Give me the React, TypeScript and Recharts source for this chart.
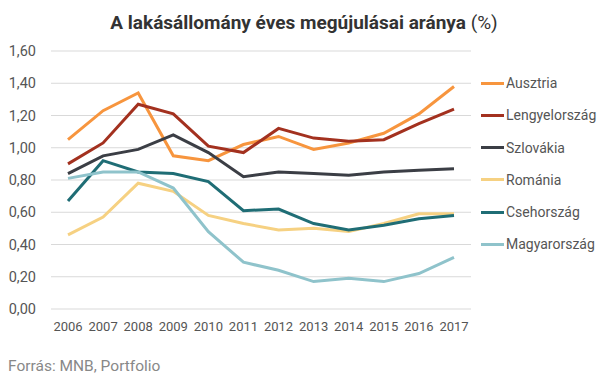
import React from "react";
import { LineChart, Line, XAxis, YAxis, CartesianGrid } from "recharts";

const years = ["2006", "2007", "2008", "2009", "2010", "2011", "2012", "2013", "2014", "2015", "2016", "2017"];
const ausztria = [1.05, 1.23, 1.34, 0.95, 0.92, 1.02, 1.07, 0.99, 1.03, 1.09, 1.21, 1.38];
const lengyelorszag = [0.9, 1.03, 1.27, 1.21, 1.01, 0.97, 1.12, 1.06, 1.04, 1.05, 1.15, 1.24];
const szlovakia = [0.84, 0.95, 0.99, 1.08, 0.97, 0.82, 0.85, 0.84, 0.83, 0.85, 0.86, 0.87];
const romania = [0.46, 0.57, 0.78, 0.73, 0.58, 0.53, 0.49, 0.5, 0.48, 0.53, 0.59, 0.59];
const csehorszag = [0.67, 0.92, 0.85, 0.84, 0.79, 0.61, 0.62, 0.53, 0.49, 0.52, 0.56, 0.58];
const magyarorszag = [0.81, 0.85, 0.85, 0.75, 0.48, 0.29, 0.24, 0.17, 0.19, 0.17, 0.22, 0.32];
const yTicks = [0, 0.2, 0.4, 0.6, 0.8, 1.0, 1.2, 1.4, 1.6];

const seriesDefs = [
  { key: "Ausztria", values: ausztria, color: "#F7953E" },
  { key: "Lengyelország", values: lengyelorszag, color: "#A3311F" },
  { key: "Szlovákia", values: szlovakia, color: "#3B3E45" },
  { key: "Románia", values: romania, color: "#F6D182" },
  { key: "Csehország", values: csehorszag, color: "#1F6D75" },
  { key: "Magyarország", values: magyarorszag, color: "#8FC3CB" },
];

const data = years.map((y, i) => {
  const row: Record<string, any> = { year: y };
  seriesDefs.forEach((s) => (row[s.key] = s.values[i]));
  return row;
});

const FONT = "Roboto, 'Noto Sans', sans-serif";

export default function App() {
  return (
    <div style={{ position: "absolute", left: 0, top: 0, width: 605, height: 379, background: "#fff", fontFamily: FONT }}>
      <div
        style={{
          position: "absolute",
          left: 0,
          width: 608,
          top: 12,
          textAlign: "center",
          fontSize: 19,
          lineHeight: "22px",
          color: "#333",
          fontWeight: 700,
          whiteSpace: "nowrap",
        }}
      >
        A lakásállomány éves megújulásai aránya <span style={{ fontWeight: 400 }}>(%)</span>
      </div>
      <div style={{ position: "absolute", left: 0, top: 0 }}>
        <LineChart width={605} height={379} data={data} margin={{ top: 51, right: 134, bottom: 0, left: 8 }}>
          <CartesianGrid vertical={false} stroke="#d9d9d9" strokeWidth={1} />
          <XAxis
            dataKey="year"
            axisLine={false}
            tickLine={false}
            padding={{ left: 17, right: 17 }}
            tick={{ fill: "#555", fontSize: 13 }}
            tickMargin={7}
            interval={0}
            height={70}
          />
          <YAxis
            domain={[0, 1.6]}
            ticks={yTicks}
            axisLine={false}
            tickLine={false}
            width={43}
            tickMargin={9}
            tick={{ fill: "#555", fontSize: 14.5 }}
            tickFormatter={(v: number) => v.toFixed(2).replace(".", ",")}
          />
          {seriesDefs.map((s) => (
            <Line
              key={s.key}
              type="linear"
              dataKey={s.key}
              stroke={s.color}
              strokeWidth={3}
              dot={false}
              activeDot={false}
              isAnimationActive={false}
            />
          ))}
        </LineChart>
      </div>
      <div style={{ position: "absolute", left: 481, top: 67, width: 124 }}>
        {seriesDefs.map((s) => (
          <div key={s.key} style={{ display: "flex", alignItems: "center", height: 32.25 }}>
            <div style={{ width: 23, height: 3, background: s.color, marginRight: 2 }} />
            <span style={{ fontSize: 14, color: "#555", whiteSpace: "nowrap" }}>{s.key}</span>
          </div>
        ))}
      </div>
      <div style={{ position: "absolute", left: 8, top: 357, fontSize: 15.5, lineHeight: "18px", color: "#888" }}>
        Forrás: MNB, Portfolio
      </div>
    </div>
  );
}
